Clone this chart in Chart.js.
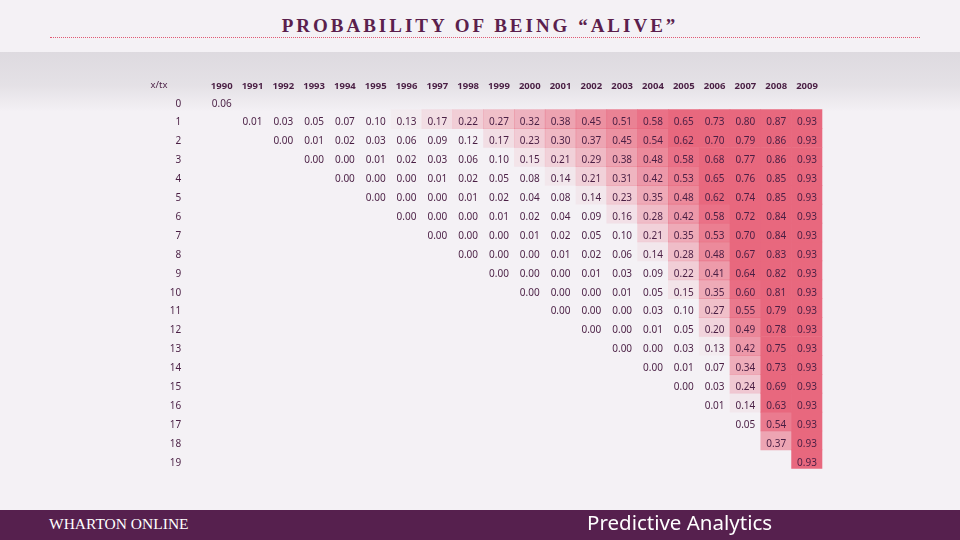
<!DOCTYPE html>
<html>
<head>
<meta charset="utf-8">
<script src="https://cdn.jsdelivr.net/npm/chart.js@4.4.0/dist/chart.umd.min.js"></script>
<style>
  body { margin: 0; width: 960px; height: 540px; overflow: hidden; position: relative; background: #F4F1F5; font-family: "Noto Sans", sans-serif; }
  #title { position: absolute; top: 15px; left: 0; width: 960px; text-align: center; font: bold 19px "Liberation Serif", serif; letter-spacing: 3px; color: #5B1F4D; }
  #rule { position: absolute; top: 37px; left: 50px; width: 870px; border-top: 1px dotted #E05A74; }
  #band { position: absolute; top: 52px; left: 0; width: 960px; height: 60px; background: linear-gradient(to bottom, rgba(150,145,155,0.24) 0%, rgba(150,145,155,0.17) 55%, rgba(150,145,155,0) 100%); }
  #wrap { position: absolute; left: 0; top: 0; width: 960px; height: 540px; }
  #footer { position: absolute; top: 510px; left: 0; width: 960px; height: 30px; background: #56204E; }
  #brand { position: absolute; left: 49px; top: 5px; color: #fff; font: 15.5px "Liberation Serif", serif; }
  #course { position: absolute; left: 587px; top: -2px; color: #fff; font: 20.5px "Noto Sans", sans-serif; }
</style>
</head>
<body>
<div id="title">PROBABILITY OF BEING “ALIVE”</div>
<div id="rule"></div>
<div id="band"></div>
<div id="wrap"><canvas id="chart"></canvas></div>
<div id="footer">
  <div id="brand">WHARTON ONLINE</div>
  <div id="course">Predictive Analytics</div>
</div>
<script>
// column headers (calendar years) and row labels (x)
const years = ["1990", "1991", "1992", "1993", "1994", "1995", "1996", "1997", "1998", "1999",
  "2000", "2001", "2002", "2003", "2004", "2005", "2006", "2007", "2008", "2009"];
const rowLabels = [0, 1, 2, 3, 4, 5, 6, 7, 8, 9, 10, 11, 12, 13, 14, 15, 16, 17, 18, 19];

// first year index each row starts at
const rowStart = [0, 1, 2, 3, 4, 5, 6, 7, 8, 9, 10, 11, 12, 13, 14, 15, 16, 17, 18, 19];

// P(alive) per row, from its first year up to 2009 (row 0 only has 1990)
const pAlive = [
  [0.06],
  [0.01, 0.03, 0.05, 0.07, 0.10, 0.13, 0.17, 0.22, 0.27, 0.32, 0.38, 0.45, 0.51, 0.58, 0.65, 0.73, 0.80, 0.87, 0.93],
  [0.00, 0.01, 0.02, 0.03, 0.06, 0.09, 0.12, 0.17, 0.23, 0.30, 0.37, 0.45, 0.54, 0.62, 0.70, 0.79, 0.86, 0.93],
  [0.00, 0.00, 0.01, 0.02, 0.03, 0.06, 0.10, 0.15, 0.21, 0.29, 0.38, 0.48, 0.58, 0.68, 0.77, 0.86, 0.93],
  [0.00, 0.00, 0.00, 0.01, 0.02, 0.05, 0.08, 0.14, 0.21, 0.31, 0.42, 0.53, 0.65, 0.76, 0.85, 0.93],
  [0.00, 0.00, 0.00, 0.01, 0.02, 0.04, 0.08, 0.14, 0.23, 0.35, 0.48, 0.62, 0.74, 0.85, 0.93],
  [0.00, 0.00, 0.00, 0.01, 0.02, 0.04, 0.09, 0.16, 0.28, 0.42, 0.58, 0.72, 0.84, 0.93],
  [0.00, 0.00, 0.00, 0.01, 0.02, 0.05, 0.10, 0.21, 0.35, 0.53, 0.70, 0.84, 0.93],
  [0.00, 0.00, 0.00, 0.01, 0.02, 0.06, 0.14, 0.28, 0.48, 0.67, 0.83, 0.93],
  [0.00, 0.00, 0.00, 0.01, 0.03, 0.09, 0.22, 0.41, 0.64, 0.82, 0.93],
  [0.00, 0.00, 0.00, 0.01, 0.05, 0.15, 0.35, 0.60, 0.81, 0.93],
  [0.00, 0.00, 0.00, 0.03, 0.10, 0.27, 0.55, 0.79, 0.93],
  [0.00, 0.00, 0.01, 0.05, 0.20, 0.49, 0.78, 0.93],
  [0.00, 0.00, 0.03, 0.13, 0.42, 0.75, 0.93],
  [0.00, 0.01, 0.07, 0.34, 0.73, 0.93],
  [0.00, 0.03, 0.24, 0.69, 0.93],
  [0.01, 0.14, 0.63, 0.93],
  [0.05, 0.54, 0.93],
  [0.37, 0.93],
  [0.93]
];

const TEXT = "#4A1F44";

const valueAt = (r, j) => {
  const k = j - rowStart[r];
  return k >= 0 && k < pAlive[r].length ? pAlive[r][k] : null;
};

// white -> pink colour scale
const cellColor = (v) => {
  if (v == null) return "rgba(0,0,0,0)";
  const t = Math.max(0, Math.min(1, (v - 0.12) / 0.5));
  return `rgba(232, 104, 126, ${Math.pow(t, 0.85).toFixed(3)})`;
};

const datasets = rowLabels.map((r) => ({
  label: "x=" + r,
  data: years.map((_, j) => (valueAt(r, j) == null ? null : [r - 0.5, r + 0.5])),
  backgroundColor: years.map((_, j) => cellColor(valueAt(r, j))),
  borderWidth: 0,
  grouped: false,
  barPercentage: 1,
  categoryPercentage: 1,
}));

// numbers sit a little below the middle of each cell, like the sheet
const cellText = {
  id: "cellText",
  afterDatasetsDraw(chart) {
    const { ctx, scales: { x, y } } = chart;
    ctx.save();
    ctx.fillStyle = TEXT;
    ctx.textAlign = "center";
    ctx.textBaseline = "middle";
    ctx.font = '10px "Noto Sans", sans-serif';
    rowLabels.forEach((r) => {
      years.forEach((_, j) => {
        const v = valueAt(r, j);
        if (v == null) return;
        ctx.fillText(v.toFixed(2), x.getPixelForValue(j), y.getPixelForValue(r) + 3.5);
      });
    });
    ctx.font = '9.5px "Noto Sans", sans-serif';
    ctx.fillText("x/tx", 159, y.getPixelForValue(-1) + 3.5);
    ctx.restore();
  },
};

new Chart(document.getElementById("chart"), {
  type: "bar",
  data: { labels: years, datasets: datasets },
  options: {
    responsive: true,
    maintainAspectRatio: false,
    animation: false,
    layout: { padding: { left: 156.3, right: 137.6, top: 70.8, bottom: 71.2 } },
    plugins: { legend: { display: false }, tooltip: { enabled: false } },
    scales: {
      x: {
        position: "top",
        grid: { display: false, drawTicks: false },
        border: { display: false },
        ticks: { color: TEXT, font: { family: "Noto Sans", size: 9.5, weight: "bold" }, padding: -1, maxRotation: 0, autoSkip: false },
        afterFit: (scale) => { scale.height = 20; },
      },
      y: {
        type: "linear",
        min: -0.5,
        max: 19.5,
        reverse: true,
        grid: { display: false, drawTicks: false },
        border: { display: false },
        afterBuildTicks: (scale) => { scale.ticks = rowLabels.map((v) => ({ value: v })); },
        ticks: { color: TEXT, font: { family: "Noto Sans", size: 10 }, padding: 25, labelOffset: 3.5, callback: (v) => v },
        afterFit: (scale) => { scale.width = 50; },
      },
    },
  },
  plugins: [cellText],
});
</script>
</body>
</html>
